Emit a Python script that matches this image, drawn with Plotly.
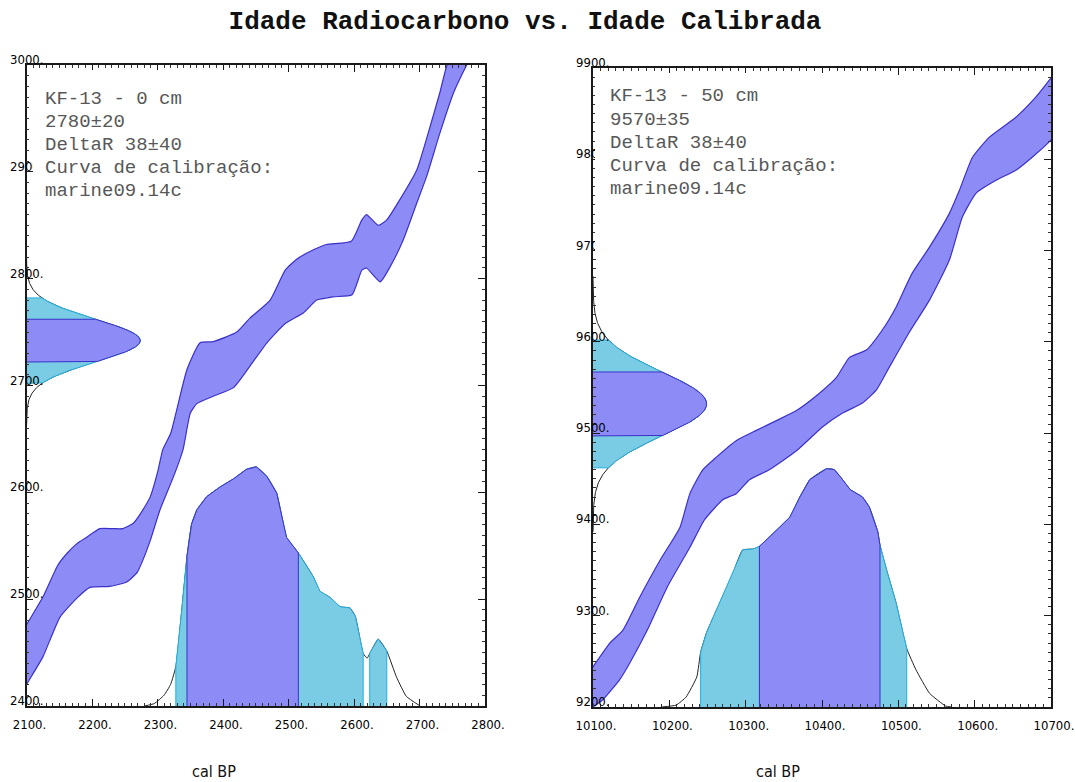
import numpy as np
import plotly.graph_objects as go

# ---------------- radiocarbon determinations ----------------
sample_labels = ["KF-13 - 0 cm", "KF-13 - 50 cm"]
c14_ages = [2780, 9570]
c14_errors = [20, 35]
delta_r = 38
delta_r_error = 40
curve_label = "marine09.14c"

# ---------------- axes ----------------
x_ranges = [[2100, 2800], [10100, 10700]]
y_ranges = [[2400, 3000], [9200, 9900]]
x_tick_values = [
    [2100, 2200, 2300, 2400, 2500, 2600, 2700, 2800],
    [10100, 10200, 10300, 10400, 10500, 10600, 10700],
]
x_tick_labels = [
    ["2100.", "2200.", "2300.", "2400.", "2500.", "2600.", "2700.", "2800."],
    ["10100.", "10200.", "10300.", "10400.", "10500.", "10600.", "10700."],
]
y_tick_values = [
    [2400, 2500, 2600, 2700, 2800, 2900, 3000],
    [9200, 9300, 9400, 9500, 9600, 9700, 9800, 9900],
]
y_tick_labels = [
    ["2400.", "2500.", "2600.", "2700.", "2800.", "2900.", "3000."],
    ["9200.", "9300.", "9400.", "9500.", "9600.", "9700.", "9800.", "9900."],
]

# ---------------- marine09 calibration envelope (1 sigma) ----------------
cal0_upper_x = [2095, 2100, 2125, 2148, 2162, 2177, 2192, 2212, 2232, 2247, 2263, 2276,
                2289, 2301, 2308, 2320, 2345, 2365, 2385, 2421, 2441, 2472, 2495, 2512,
                2538, 2558, 2596, 2612, 2619, 2637, 2650, 2670, 2696, 2716, 2731, 2742, 2755]
cal0_upper_y = [2470, 2476, 2502, 2532, 2543, 2552, 2558, 2566, 2566, 2566, 2571, 2582,
                2596, 2621, 2640, 2655, 2715, 2740, 2741, 2750, 2763, 2780, 2808, 2818,
                2827, 2832, 2835, 2855, 2860, 2850, 2855, 2874, 2902, 2942, 2974, 3000, 3015]
cal0_lower_x = [2095, 2100, 2125, 2151, 2177, 2197, 2227, 2253, 2269, 2278, 2289, 2304,
                2324, 2339, 2350, 2360, 2385, 2416, 2441, 2467, 2495, 2523, 2543, 2568,
                2597, 2612, 2619, 2640, 2655, 2675, 2696, 2711, 2731, 2752, 2772, 2785]
cal0_lower_y = [2414, 2420, 2446, 2483, 2501, 2511, 2512, 2516, 2525, 2537, 2555, 2584,
                2614, 2640, 2674, 2683, 2690, 2698, 2718, 2740, 2758, 2768, 2780, 2783,
                2785, 2808, 2810, 2797, 2811, 2836, 2871, 2896, 2936, 2974, 3000, 3015]

cal1_upper_x = [10090, 10100, 10122, 10139, 10161, 10188, 10214, 10227, 10244, 10262,
                10288, 10314, 10341, 10367, 10397, 10419, 10436, 10458, 10479, 10497,
                10518, 10541, 10567, 10580, 10597, 10619, 10654, 10680, 10700, 10710]
cal1_upper_y = [9232, 9244, 9270, 9284, 9320, 9361, 9397, 9434, 9460, 9474,
                9492, 9503, 9514, 9525, 9544, 9561, 9583, 9591, 9613, 9638,
                9675, 9704, 9741, 9766, 9802, 9824, 9846, 9868, 9889, 9900]
cal1_lower_x = [10090, 10100, 10113, 10135, 10148, 10171, 10197, 10227, 10246, 10270,
                10288, 10305, 10331, 10367, 10401, 10427, 10453, 10471, 10488, 10514,
                10541, 10567, 10584, 10602, 10628, 10654, 10675, 10700, 10710]
cal1_lower_y = [9190, 9200, 9208, 9230, 9248, 9284, 9331, 9375, 9405, 9427,
                9434, 9449, 9460, 9481, 9507, 9522, 9533, 9547, 9572, 9610,
                9646, 9690, 9737, 9763, 9777, 9788, 9802, 9821, 9830]

# ---------------- calibrated age probability (relative, peak = 1) ----------------
prob0_x = [2280, 2295, 2310, 2320, 2328, 2337, 2345, 2352, 2360, 2375, 2395, 2416, 2436,
           2451, 2467, 2482, 2497, 2515, 2538, 2548, 2563, 2579, 2594, 2602, 2614, 2620,
           2626, 2637, 2650, 2665, 2680, 2701]
prob0_p = [0.0, 0.01, 0.045, 0.09, 0.165, 0.40, 0.625, 0.76, 0.82, 0.875, 0.915, 0.95, 0.99,
           1.0, 0.96, 0.89, 0.705, 0.64, 0.54, 0.48, 0.455, 0.415, 0.41, 0.375, 0.22, 0.20,
           0.23, 0.28, 0.23, 0.12, 0.04, 0.0]
prob1_x = [10190, 10209, 10222, 10236, 10241, 10249, 10266, 10283, 10296, 10310, 10318,
           10336, 10358, 10371, 10384, 10406, 10416, 10425, 10437, 10453, 10462, 10473,
           10476, 10486, 10497, 10511, 10523, 10541, 10562, 10570]
prob1_p = [0.0, 0.008, 0.042, 0.126, 0.23, 0.314, 0.437, 0.559, 0.659, 0.663, 0.674,
           0.728, 0.797, 0.881, 0.954, 1.0, 0.996, 0.962, 0.912, 0.881, 0.839, 0.736,
           0.678, 0.559, 0.437, 0.245, 0.157, 0.057, 0.004, 0.0]

# calibrated ranges (cal BP)
one_sigma_ranges = [[(2345, 2515)], [(10318, 10476)]]
two_sigma_ranges = [[(2328, 2614), (2624, 2650)], [(10241, 10511)]]

# ---------------- styling ----------------
BAND_FILL = "#8d8cf7"
BAND_EDGE = "#3b31c9"
CYAN_FILL = "#7acbe4"
CYAN_EDGE = "#1fb1e2"
TAIL = "#222222"
MONO = "Liberation Mono, Courier New, monospace"
NARROW = "DejaVu Sans Condensed, Liberation Sans Narrow, Arial Narrow, sans-serif"
PROB_FRAC = 0.373    # peak of calibrated density as a share of the y span
GAUSS_FRAC = 0.248   # peak of the radiocarbon gaussian as a share of the x span

W, H = 1075, 782
plot_px = [  # (left, top, right, bottom) of each frame in pixels
    (26.5, 65, 485, 706),
    (593, 68, 1051, 707),
]

fig = go.Figure()


def poly_trace(xs, ys, fill, edge, xa, ya, width=1.0, smooth=False):
    line = dict(color=edge, width=width)
    if smooth:
        line.update(shape="spline", smoothing=0.5)
    fig.add_trace(go.Scatter(x=xs, y=ys, mode="lines", fill="toself", fillcolor=fill,
                             line=line, hoverinfo="skip", xaxis=xa, yaxis=ya))


def segment(xs, ps, a, b):
    xs = np.asarray(xs, float)
    ps = np.asarray(ps, float)
    inner = (xs > a) & (xs < b)
    sx = np.concatenate([[a], xs[inner], [b]])
    sp = np.concatenate([[np.interp(a, xs, ps)], ps[inner], [np.interp(b, xs, ps)]])
    return sx, sp


for i in range(2):
    xa = "x" if i == 0 else "x2"
    ya = "y" if i == 0 else "y2"
    xr, yr = x_ranges[i], y_ranges[i]
    ux, uy, lx, ly = [(cal0_upper_x, cal0_upper_y, cal0_lower_x, cal0_lower_y),
                      (cal1_upper_x, cal1_upper_y, cal1_lower_x, cal1_lower_y)][i]

    # calibration curve envelope
    poly_trace(list(ux) + list(lx)[::-1], list(uy) + list(ly)[::-1],
               BAND_FILL, BAND_EDGE, xa, ya, 1.2, smooth=True)

    # calibrated probability on the cal BP axis
    px_, pp = [(prob0_x, prob0_p), (prob1_x, prob1_p)][i]
    scale = PROB_FRAC * (yr[1] - yr[0])
    base = yr[0]
    fig.add_trace(go.Scatter(x=px_, y=[base + p * scale for p in pp], mode="lines",
                             line=dict(color=TAIL, width=1, shape="spline", smoothing=0.4),
                             hoverinfo="skip", xaxis=xa, yaxis=ya))
    for (a, b) in two_sigma_ranges[i]:
        sx, sp = segment(px_, pp, a, b)
        poly_trace(np.concatenate([[a], sx, [b]]),
                   np.concatenate([[base], base + sp * scale, [base]]),
                   CYAN_FILL, CYAN_EDGE, xa, ya, 1.0)
    for (a, b) in one_sigma_ranges[i]:
        sx, sp = segment(px_, pp, a, b)
        poly_trace(np.concatenate([[a], sx, [b]]),
                   np.concatenate([[base], base + sp * scale, [base]]),
                   BAND_FILL, BAND_EDGE, xa, ya, 1.0)

    # reservoir-corrected radiocarbon age on the conventional-age axis
    mu = c14_ages[i] - delta_r
    sd = c14_errors[i]
    gscale = GAUSS_FRAC * (xr[1] - xr[0])
    gbase = xr[0]

    def gauss_x(y):
        return gbase + gscale * np.exp(-0.5 * ((y - mu) / sd) ** 2)

    yy = np.linspace(mu - 4 * sd, mu + 4 * sd, 321)
    fig.add_trace(go.Scatter(x=gauss_x(yy), y=yy, mode="lines",
                             line=dict(color=TAIL, width=1), hoverinfo="skip",
                             xaxis=xa, yaxis=ya))
    for k, fill, edge in [(2, CYAN_FILL, CYAN_EDGE), (1, BAND_FILL, BAND_EDGE)]:
        ys = np.linspace(mu - k * sd, mu + k * sd, 161)
        poly_trace(np.concatenate([[gbase], gauss_x(ys), [gbase]]),
                   np.concatenate([[ys[0]], ys, [ys[-1]]]),
                   fill, edge, xa, ya, 1.0)

# ---------------- axes ----------------
tick_font = dict(family=NARROW, size=13, color="#000000")
for i in range(2):
    l, t, r, b = plot_px[i]
    common = dict(showline=True, linecolor="#1a1a1a", linewidth=1.5, mirror="allticks",
                  ticks="inside", ticklen=7, tickwidth=1.3, tickcolor="#1a1a1a",
                  showgrid=False, zeroline=False, automargin=False, tickfont=tick_font)
    xax = dict(common, domain=[l / W, r / W], range=x_ranges[i], anchor="y" if i == 0 else "y2",
               tickmode="array", tickvals=x_tick_values[i], ticktext=x_tick_labels[i],
               ticklabelstandoff=6, ticklabelshift=3,
               minor=dict(ticks="inside", ticklen=3, tickwidth=1, tickcolor="#333",
                          tickmode="linear", tick0=x_ranges[i][0], dtick=10))
    yax = dict(common, domain=[1 - b / H, 1 - t / H], range=y_ranges[i],
               anchor="x" if i == 0 else "x2",
               tickmode="array", tickvals=y_tick_values[i], showticklabels=False,
               minor=dict(ticks="inside", ticklen=3, tickwidth=1, tickcolor="#333",
                          tickmode="linear", tick0=y_ranges[i][0], dtick=10))
    if i == 0:
        fig.update_layout(xaxis=xax, yaxis=yax)
    else:
        fig.update_layout(xaxis2=xax, yaxis2=yax)

# ---------------- annotations ----------------
annotations = []

# vertical-axis labels sit on the frame line, resting on their tick
for i in range(2):
    xd = "x domain" if i == 0 else "x2 domain"
    yref = "y" if i == 0 else "y2"
    for v, s in zip(y_tick_values[i], y_tick_labels[i]):
        annotations.append(dict(xref=xd, yref=yref, x=0, y=v, xanchor="center",
                                yanchor="bottom", yshift=-3, text=s, showarrow=False,
                                font=tick_font, borderpad=0))

text_px = [(43, 98.5), (608, 96.5)]
box_px = [(33, 70), (595, 73)]
for i in range(2):
    bx, by = box_px[i]
    annotations.append(dict(xref="paper", yref="paper", x=bx / W, y=1 - by / H,
                            xanchor="left", yanchor="top", text=" ", showarrow=False,
                            width=250, height=186, bgcolor="white", borderpad=0,
                            borderwidth=0))
    lines = [sample_labels[i], f"{c14_ages[i]}±{c14_errors[i]}",
             f"DeltaR {delta_r}±{delta_r_error}", "Curva de calibração:", curve_label]
    tx, ty = text_px[i]
    for k, line in enumerate(lines):
        annotations.append(dict(xref="paper", yref="paper", x=tx / W,
                                y=1 - (ty + 23.2 * k) / H, xanchor="left", yanchor="middle",
                                text=line, showarrow=False,
                                font=dict(family=MONO, size=19, color="#585858")))

for cx in (214, 778):
    annotations.append(dict(xref="paper", yref="paper", x=cx / W, y=1 - 771 / H,
                            xanchor="center", yanchor="middle", text="cal BP",
                            showarrow=False,
                            font=dict(family=NARROW, size=16, color="#111111")))

fig.update_layout(
    width=W, height=H,
    margin=dict(l=0, r=0, t=0, b=0),
    template="none",
    paper_bgcolor="white", plot_bgcolor="white",
    showlegend=False,
    title=dict(text="Idade Radiocarbono vs. Idade Calibrada", x=525 / W, xanchor="center",
               y=1 - 20 / H, yanchor="middle",
               font=dict(family=MONO, size=26, color="#111111", weight="bold")),
    annotations=annotations,
)

fig.write_html("out.html")
